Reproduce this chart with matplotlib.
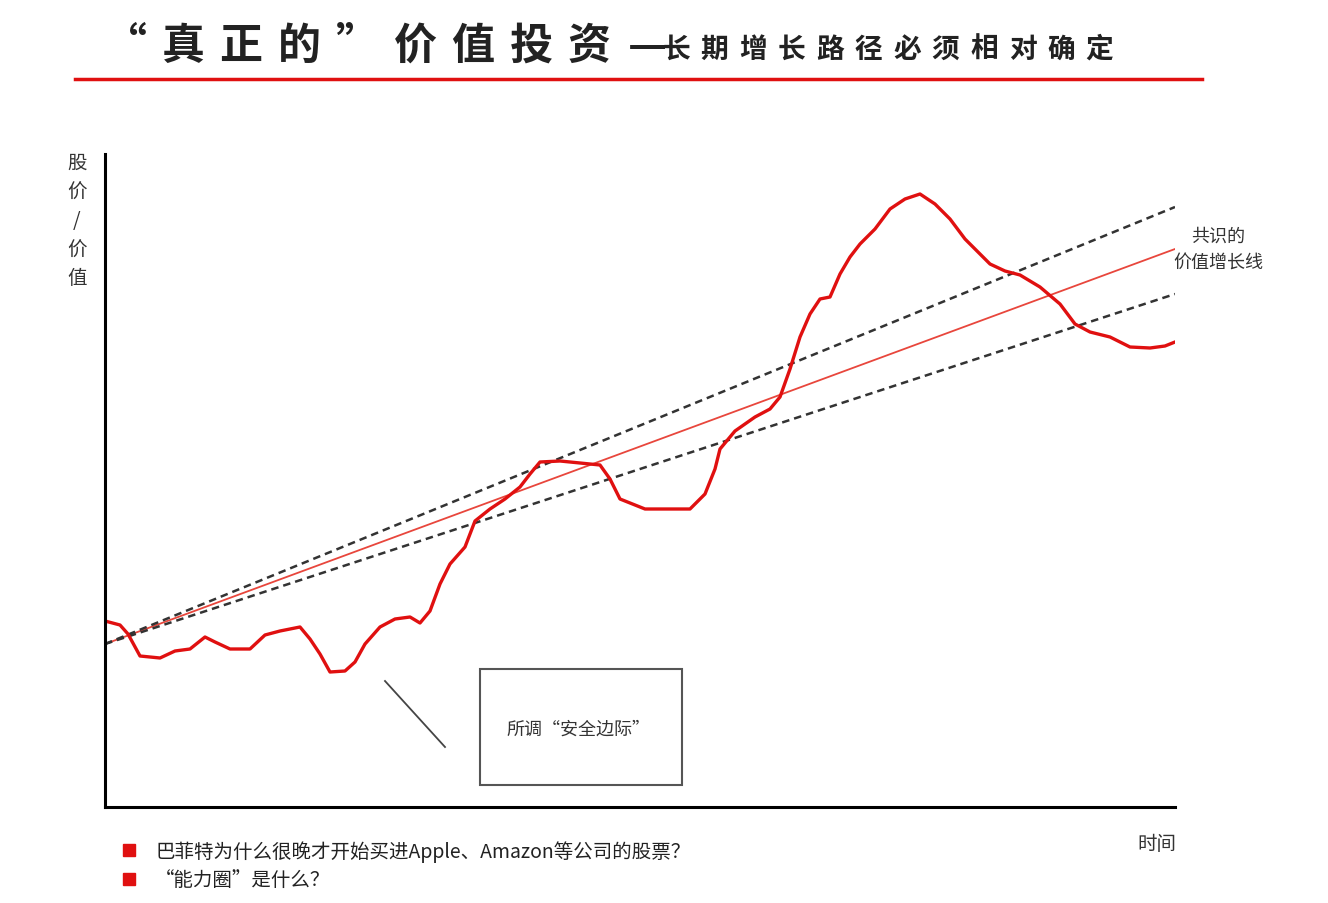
import matplotlib
matplotlib.use("Agg")
import matplotlib.pyplot as plt
from matplotlib.patches import Rectangle

plt.rcParams['font.family'] = ['Noto Sans CJK SC', 'DejaVu Sans']

W, H = 1328, 904
# price curve (x: time units, y: price/value units)
price_x = [0,15,23,35,55,70,85,100,110,125,145,160,175,195,205,215,225,240,250,260,275,290,305,315,325,335,345,360,370,385,400,415,425,435,455,475,495,505,515,530,540,565,585,600,610,615,630,650,665,675,685,695,705,715,725,735,745,755,770,785,800,815,830,845,860,875,885,900,915,935,955,970,985,1005,1025,1045,1060,1070]
price_y = [186,182,173,151,149,156,158,170,165,158,158,172,176,180,168,153,135,136,145,163,180,188,190,184,196,223,243,260,286,298,308,320,333,345,346,344,342,328,308,302,298,298,298,313,338,358,376,390,398,410,438,470,493,508,510,533,550,563,578,598,608,613,603,588,568,553,543,536,532,520,503,483,475,470,460,459,461,465]
line_x = [0, 1070]
consensus_y = [163, 558]
upper_y = [163, 600]
lower_y = [163, 513]
title_main = '“真正的”价值投资—'
title_sub = '长期增长路径必须相对确定'

fig = plt.figure(figsize=(W/100, H/100), dpi=100)
ax = fig.add_axes([105/W, (H-808)/H, 1070/W, 653/H])
ax.set_xlim(0, 1070); ax.set_ylim(0, 653)
ax.patch.set_alpha(0)
for s in ['top', 'right']:
    ax.spines[s].set_visible(False)
for s in ['left', 'bottom']:
    ax.spines[s].set_linewidth(2.2)
ax.set_xticks([]); ax.set_yticks([])
ax.plot(line_x, consensus_y, color='#e8463c', lw=1.3)
ax.plot(line_x, upper_y, color='#333333', lw=1.8, ls=(0, (3, 2)))
ax.plot(line_x, lower_y, color='#333333', lw=1.8, ls=(0, (3, 2)))
ax.plot(price_x, price_y, color='#e01010', lw=2.4)

bg = fig.add_axes([0, 0, 1, 1], zorder=5)
bg.set_xlim(0, W); bg.set_ylim(H, 0); bg.axis('off')
bg.patch.set_alpha(0)

# title, spaced characters
for i, ch in enumerate(title_main):
    bg.text(125 + i*58, 46, ch, fontsize=31, fontweight='bold', ha='center', va='center', color='#222')
for i, ch in enumerate(title_sub):
    bg.text(676 + i*38.5, 50, ch, fontsize=20, fontweight='bold', ha='center', va='center', color='#222')
bg.plot([75, 1202], [80, 80], color='#e01010', lw=2.5)

for i, ch in enumerate(['股', '价', '/', '价', '值']):
    bg.text(77, 163 + i*29, ch, fontsize=14, ha='center', va='center', color='#333')
bg.text(1218, 237, '共识的', fontsize=13, ha='center', va='center', color='#333')
bg.text(1218, 263, '价值增长线', fontsize=13, ha='center', va='center', color='#333')
bg.add_patch(Rectangle((480, 670), 202, 116, fill=False, ec='#555', lw=1.5))
bg.text(578, 730, '所调“安全边际”', fontsize=13, ha='center', va='center', color='#333')
bg.plot([385, 445], [682, 748], color='#444', lw=1.3)
bg.text(1157, 845, '时间', fontsize=14, ha='center', va='center', color='#333')
bg.add_patch(Rectangle((123, 845), 12, 12, color='#e01010'))
bg.add_patch(Rectangle((123, 874), 12, 12, color='#e01010'))
bg.text(155, 852, '巴菲特为什么很晚才开始买进Apple、Amazon等公司的股票？', fontsize=14, va='center', color='#222')
bg.text(155, 880, '“能力圈”是什么？', fontsize=14, va='center', color='#222')

fig.savefig('out.png', dpi=100)
